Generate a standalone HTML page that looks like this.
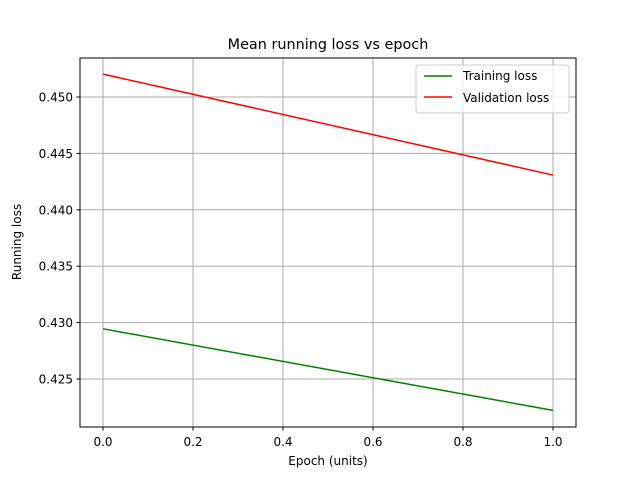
<!DOCTYPE html>
<html><head><meta charset="utf-8"><style>
body{margin:0;background:#fff;font-family:"DejaVu Sans","Liberation Sans",sans-serif;}
svg text{font-family:"DejaVu Sans","Liberation Sans",sans-serif;}
</style></head><body>
<svg id="chart" width="640" height="480" xmlns="http://www.w3.org/2000/svg">
<rect width="640" height="480" fill="#fff"/>
<g id="grid"></g><g id="lines"></g><g id="ticks"></g>
<rect x="80" y="58" width="496" height="369" fill="none" stroke="#000" stroke-width="1"/>
<text x="328" y="49" text-anchor="middle" font-size="14.4">Mean running loss vs epoch</text>
<text x="328" y="465" text-anchor="middle" font-size="12">Epoch (units)</text>
<text transform="translate(21,242) rotate(-90)" text-anchor="middle" font-size="12">Running loss</text>
<g>
<rect x="416" y="65" width="153" height="48" rx="3" fill="#fff" fill-opacity="0.8" stroke="#ccc"/>
<line x1="424" y1="76" x2="452" y2="76" stroke="green" stroke-width="1.5"/>
<text x="463" y="80" font-size="12">Training loss</text>
<line x1="424" y1="97" x2="452" y2="97" stroke="red" stroke-width="1.5"/>
<text x="463" y="102" font-size="12">Validation loss</text>
</g>
</svg>
<script>
const epochs=[0,1];
const trainLoss=[0.42945,0.42222];
const valLoss=[0.45203,0.44308];
const xTicks=[0,0.2,0.4,0.6,0.8,1.0];
const yTicks=[0.425,0.430,0.435,0.440,0.445,0.450];
const xs=v=>103+v*450;
const ys=v=>97+(0.450-v)/0.005*56.4;
const NS="http://www.w3.org/2000/svg";
const g=document.getElementById('grid'),t=document.getElementById('ticks'),L=document.getElementById('lines');
function mk(tag,a,p){const e=document.createElementNS(NS,tag);for(const k in a)e.setAttribute(k,a[k]);p.appendChild(e);return e;}
xTicks.forEach(v=>{const x=xs(v);
const gl=mk('line',{x1:x,x2:x,y1:58,y2:427,stroke:'#a8a8a8','stroke-width':1},g);

mk('line',{x1:x,x2:x,y1:427,y2:430.5,stroke:'#000'},t);
const tx=mk('text',{x:x,y:446,'text-anchor':'middle','font-size':12},t);tx.textContent=v.toFixed(1);
});
yTicks.forEach(v=>{const y=ys(v);
const gl=mk('line',{x1:80,x2:576,y1:y,y2:y,stroke:'#a8a8a8','stroke-width':1},g);

mk('line',{x1:76.5,x2:80,y1:y,y2:y,stroke:'#000'},t);
const tx=mk('text',{x:73,y:y+4.5,'text-anchor':'end','font-size':12},t);tx.textContent=v.toFixed(3);
});
function line(d,c,n){const p=mk('polyline',{points:epochs.map((e,i)=>xs(e)+','+ys(d[i])).join(' '),fill:'none',stroke:c,'stroke-width':1.5},L);
}
line(trainLoss,'green','training-loss-line');
line(valLoss,'red','validation-loss-line');
</script>
</body></html>
